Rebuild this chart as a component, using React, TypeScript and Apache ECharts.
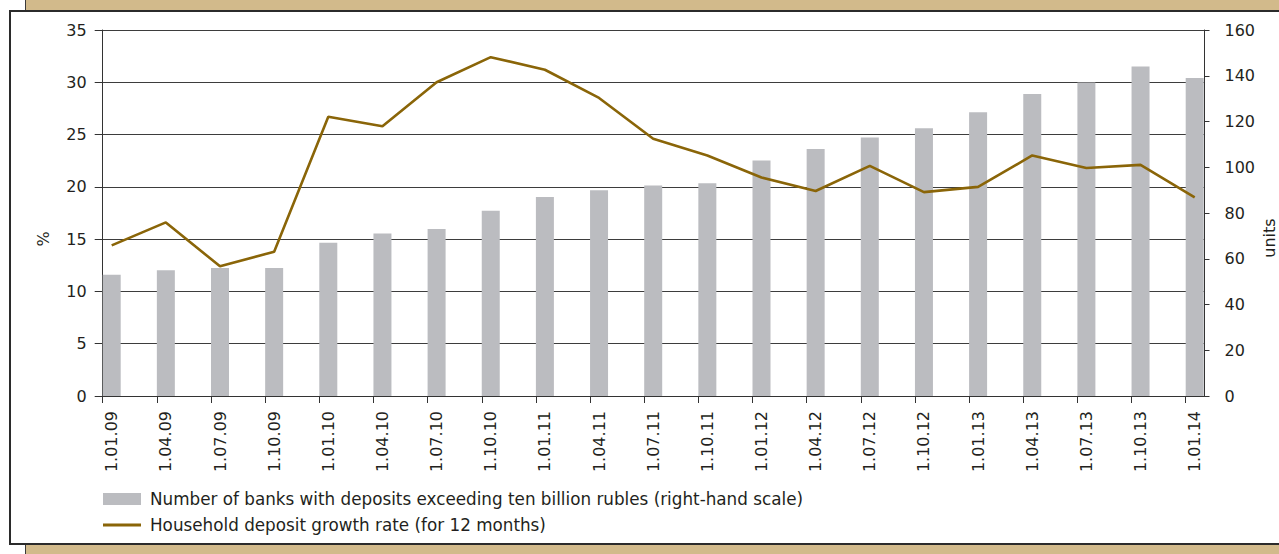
import React, { useEffect, useRef } from "react";
import * as echarts from "echarts";

const categories = [
  "1.01.09", "1.04.09", "1.07.09", "1.10.09", "1.01.10", "1.04.10", "1.07.10",
  "1.10.10", "1.01.11", "1.04.11", "1.07.11", "1.10.11", "1.01.12", "1.04.12",
  "1.07.12", "1.10.12", "1.01.13", "1.04.13", "1.07.13", "1.10.13", "1.01.14",
];
const banksCount = [53, 55, 56, 56, 67, 71, 73, 81, 87, 90, 92, 93, 103, 108, 113, 117, 124, 132, 137, 144, 139];
const depositGrowth = [14.4, 16.6, 12.4, 13.8, 26.7, 25.8, 30.0, 32.4, 31.2, 28.5, 24.6, 23.0, 20.9, 19.6, 22.0, 19.5, 20.0, 23.0, 21.8, 22.1, 19.0];
const leftAxisRange = [0, 35];
const leftAxisStep = 5;
const rightAxisRange = [0, 160];
const rightAxisStep = 20;
const barName = "Number of banks with deposits exceeding ten billion rubles (right-hand scale)";
const lineName = "Household deposit growth rate (for 12 months)";
const leftAxisTitle = "%";
const rightAxisTitle = "units";

const FONT = "DejaVu Sans";
const TEXT = "#231f20";
const TAN = "#D2BA8B";
const BAR = "#BBBCC0";
const LINE = "#8A6508";

export default function App() {
  const ref = useRef<HTMLDivElement>(null);
  useEffect(() => {
    if (!ref.current) return;
    const chart = echarts.init(ref.current, null, { renderer: "svg" });
    const top = 30;
    const bottom = 554 - 396;
    const frameLeft = 102.7;
    const frameWidth = 1101.8;
    const step = 54.15;
    const dataLeft = frameLeft + 9;
    const dataWidth = step * (categories.length - 1);
    const tickValues = categories.map((_, i) => i);

    const option: any = {
      animation: false,
      backgroundColor: "transparent",
      textStyle: { fontFamily: FONT, color: TEXT },
      graphic: [
        {
          type: "rect",
          z: -20,
          silent: true,
          shape: { x: 25.5, y: -5, width: 1300, height: 600 },
          style: { fill: TAN, stroke: "#3a3a3a", lineWidth: 1 },
        },
        {
          type: "rect",
          z: -19,
          silent: true,
          shape: { x: 10, y: 11, width: 1300, height: 533 },
          style: { fill: "#ffffff", stroke: "#2b2b2b", lineWidth: 2 },
        },
        {
          type: "text",
          z: 10,
          x: 43,
          y: 239,
          rotation: Math.PI / 2,
          style: {
            text: leftAxisTitle,
            fill: TEXT,
            font: `16px '${FONT}'`,
            align: "center",
            verticalAlign: "middle",
            textAlign: "center",
            textVerticalAlign: "middle",
          },
        },
        {
          type: "text",
          z: 10,
          x: 1269.5,
          y: 238,
          rotation: Math.PI / 2,
          style: {
            text: rightAxisTitle,
            fill: TEXT,
            font: `16px '${FONT}'`,
            align: "center",
            verticalAlign: "middle",
            textAlign: "center",
            textVerticalAlign: "middle",
          },
        },
      ],
      legend: {
        orient: "vertical",
        left: 103,
        top: 489,
        padding: 0,
        itemWidth: 38,
        itemHeight: 12,
        itemGap: 6,
        selectedMode: false,
        textStyle: { fontFamily: FONT, fontSize: 16.8, color: TEXT, lineHeight: 20, padding: [0, 0, 0, 4] },
        data: [
          { name: barName, icon: "rect" },
          { name: lineName, icon: "path://M0,0H38V3H0Z", itemStyle: { color: LINE } },
        ],
      },
      grid: [
        { left: dataLeft, width: dataWidth, top, bottom, containLabel: false },
        { left: frameLeft, width: frameWidth, top, bottom, containLabel: false },
      ],
      xAxis: [
        {
          type: "category",
          gridIndex: 0,
          data: categories,
          boundaryGap: false,
          axisLine: { show: false },
          axisTick: { show: false },
          splitLine: { show: false },
          axisLabel: {
            rotate: 90,
            interval: 0,
            margin: 15,
            fontSize: 16,
            fontFamily: FONT,
            color: TEXT,
          },
        },
        {
          type: "value",
          gridIndex: 1,
          min: 0,
          max: frameWidth / step,
          interval: 1,
          axisLine: { show: true, onZero: false, lineStyle: { color: "#333", width: 1 } },
          axisTick: { show: true, length: 7, customValues: tickValues, lineStyle: { color: "#333", width: 1 } },
          axisLabel: { show: false },
          splitLine: { show: false },
        },
      ],
      yAxis: [
        {
          type: "value",
          gridIndex: 1,
          position: "left",
          min: leftAxisRange[0],
          max: leftAxisRange[1],
          interval: leftAxisStep,
          axisLine: { show: true, lineStyle: { color: "#333", width: 1 } },
          axisTick: { show: true, length: 8, lineStyle: { color: "#333", width: 1 } },
          axisLabel: { fontSize: 16, margin: 16, fontFamily: FONT, color: TEXT },
          splitLine: { show: true, lineStyle: { color: "#3d3d3d", width: 1 } },
        },
        {
          type: "value",
          gridIndex: 1,
          position: "right",
          min: rightAxisRange[0],
          max: rightAxisRange[1],
          interval: rightAxisStep,
          axisLine: { show: true, lineStyle: { color: "#333", width: 1 } },
          axisTick: { show: true, length: 5, lineStyle: { color: "#333", width: 1 } },
          axisLabel: { fontSize: 16, margin: 20, fontFamily: FONT, color: TEXT },
          splitLine: { show: false },
        },
        {
          type: "value",
          gridIndex: 0,
          min: leftAxisRange[0],
          max: leftAxisRange[1],
          interval: leftAxisStep,
          show: false,
        },
        {
          type: "value",
          gridIndex: 0,
          min: rightAxisRange[0],
          max: rightAxisRange[1],
          interval: rightAxisStep,
          show: false,
        },
      ],
      series: [
        {
          name: barName,
          type: "bar",
          xAxisIndex: 0,
          yAxisIndex: 3,
          barWidth: 18,
          itemStyle: { color: BAR },
          data: banksCount,
        },
        {
          name: lineName,
          type: "line",
          xAxisIndex: 0,
          yAxisIndex: 2,
          symbol: "none",
          showSymbol: false,
          lineStyle: { color: LINE, width: 2.6 },
          itemStyle: { color: LINE },
          data: depositGrowth,
        },
      ],
    };
    chart.setOption(option);
    return () => chart.dispose();
  }, []);

  return (
    <div style={{ position: "fixed", left: 0, top: 0, width: 1279, height: 554, background: "#fff" }}>
      <div ref={ref} style={{ width: 1279, height: 554 }} />
    </div>
  );
}
